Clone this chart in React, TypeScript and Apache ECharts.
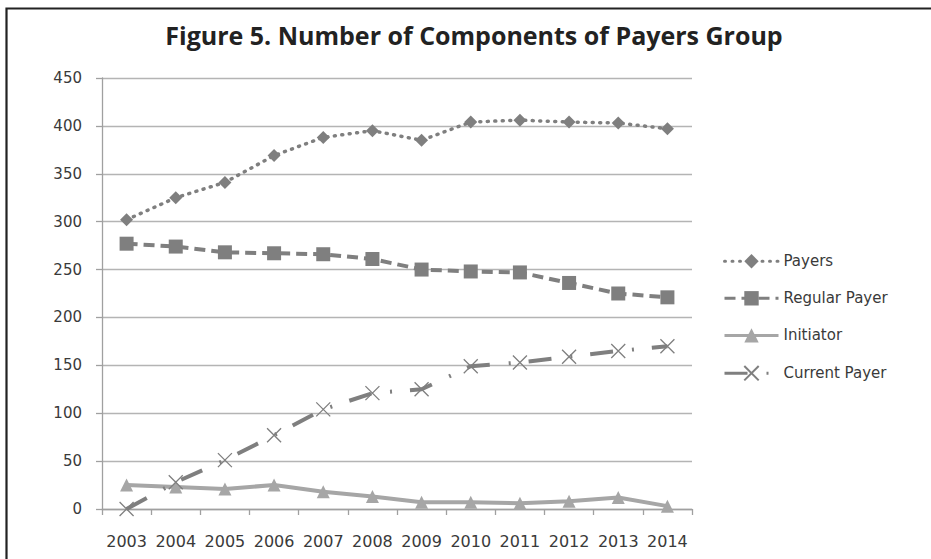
import React, { useEffect, useRef } from "react";
import * as echarts from "echarts";

// Years on the horizontal axis
const years = [
  "2003", "2004", "2005", "2006", "2007", "2008",
  "2009", "2010", "2011", "2012", "2013", "2014",
];

// Number of components per group, by year
const payers = [302, 325, 341, 369, 388, 395, 385, 404, 406, 404, 403, 397];
const regularPayer = [277, 274, 268, 267, 266, 261, 250, 248, 247, 236, 225, 221];
const initiator = [25, 23, 21, 25, 18, 13, 7, 7, 6, 8, 12, 3];
const currentPayer = [0, 28, 51, 77, 104, 121, 125, 149, 153, 159, 165, 170];

const seriesNames = ["Payers", "Regular Payer", "Initiator", "Current Payer"];
const titleText = "Figure 5. Number of Components of Payers Group";

const DARK = "#7f7f7f";
const LIGHT = "#a6a6a6";
const TEXT = "#3a3a3a";
const FONT = '"DejaVu Sans", sans-serif';
const CROSS = "path://M0 0L10 10M10 0L0 10";

export default function App() {
  const ref = useRef<HTMLDivElement>(null);

  useEffect(() => {
    if (!ref.current) return;
    const chart = echarts.init(ref.current, undefined, { renderer: "svg" });
    chart.setOption({
      animation: false,
      backgroundColor: "#ffffff",
      graphic: [
        {
          type: "rect",
          shape: { x: 6.5, y: 8.5, width: 1200, height: 1200 },
          style: { fill: "none", stroke: "#222222", lineWidth: 2.2 },
          silent: true,
        },
        {
          type: "text",
          x: 474,
          y: 35,
          style: {
            text: titleText,
            font: 'bold 25px "Open Sans", sans-serif',
            fill: "#222222",
            textAlign: "center",
            textVerticalAlign: "middle",
          },
        },
      ],
      grid: { left: 102, right: 239, top: 78, bottom: 50 },
      legend: {
        orient: "vertical",
        left: 718,
        top: 248.7,
        itemWidth: 54,
        itemHeight: 18,
        itemGap: 22.1,
        data: seriesNames,
        lineStyle: { width: 3 },
        textStyle: { color: TEXT, fontFamily: FONT, fontSize: 15 },
      },
      xAxis: {
        type: "category",
        data: years,
        boundaryGap: true,
        axisLine: { show: true, lineStyle: { color: "#a0a0a0", width: 1.3 } },
        axisTick: { show: true, length: 6, lineStyle: { color: "#a0a0a0", width: 1.3 } },
        axisLabel: { color: TEXT, fontFamily: FONT, fontSize: 16, margin: 24, interval: 0 },
      },
      yAxis: {
        type: "value",
        min: 0,
        max: 450,
        interval: 50,
        axisLine: { show: true, lineStyle: { color: "#a0a0a0", width: 1.3 } },
        axisTick: { show: true, length: 6, lineStyle: { color: "#a0a0a0", width: 1.3 } },
        axisLabel: { color: TEXT, fontFamily: FONT, fontSize: 15, margin: 20 },
        splitLine: { lineStyle: { color: "#b4b4b4", width: 1.3 } },
      },
      series: [
        {
          name: seriesNames[0],
          type: "line",
          data: payers,
          symbol: "diamond",
          symbolSize: 13,
          color: DARK,
          itemStyle: { color: DARK },
          lineStyle: { color: DARK, width: 3.5, type: [1, 6.5], cap: "round" },
        },
        {
          name: seriesNames[1],
          type: "line",
          data: regularPayer,
          symbol: "rect",
          symbolSize: 14,
          color: DARK,
          itemStyle: { color: DARK },
          lineStyle: { color: DARK, width: 4, type: [11, 6] },
        },
        {
          name: seriesNames[2],
          type: "line",
          data: initiator,
          symbol: "triangle",
          symbolSize: 13,
          color: LIGHT,
          itemStyle: { color: LIGHT },
          lineStyle: { color: LIGHT, width: 4 },
        },
        {
          name: seriesNames[3],
          type: "line",
          data: currentPayer,
          symbol: CROSS,
          symbolSize: 14,
          color: DARK,
          itemStyle: { color: DARK, borderColor: DARK, borderWidth: 1.3 },
          lineStyle: { color: DARK, width: 4, type: [23, 19, 2, 18] },
        },
      ],
    });
    return () => chart.dispose();
  }, []);

  return (
    <div
      ref={ref}
      style={{ position: "fixed", left: 0, top: 0, width: 931, height: 559, background: "#fff" }}
    />
  );
}
